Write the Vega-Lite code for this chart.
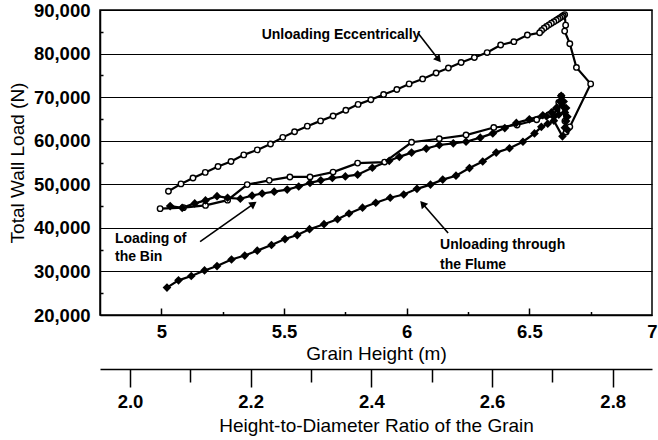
{
  "$schema": "https://vega.github.io/schema/vega-lite/v6.json",
  "width": 552,
  "height": 305,
  "autosize": "none",
  "padding": {"left": 100, "top": 10, "right": 6, "bottom": 125},
  "background": "white",
  "config": {
    "font": "Liberation Sans",
    "view": {"stroke": "#000", "strokeWidth": 1.5},
    "axis": {
      "labelFont": "Liberation Sans", "labelFontSize": 18.5, "labelFontWeight": "bold", "labelColor": "#000",
      "titleFont": "Liberation Sans", "titleFontSize": 19, "titleFontWeight": "normal", "titleColor": "#000",
      "domainColor": "#000", "domainWidth": 1.5, "tickColor": "#000", "tickWidth": 1.5,
      "gridColor": "#000", "gridWidth": 1, "gridOpacity": 1,
      "labelFlush": false, "labelOverlap": false, "labelBound": false
    }
  },
  "datasets": {
    "series": [
      {"s":"e","i":1,"h":4.995,"load":44410},{"s":"e","i":2,"h":5.09,"load":44640},{"s":"e","i":3,"h":5.18,"load":45150},
      {"s":"e","i":4,"h":5.27,"load":46360},{"s":"e","i":5,"h":5.35,"load":49930},{"s":"e","i":6,"h":5.44,"load":50900},
      {"s":"e","i":7,"h":5.524,"load":51680},{"s":"e","i":8,"h":5.606,"load":51680},{"s":"e","i":9,"h":5.70,"load":52800},
      {"s":"e","i":10,"h":5.80,"load":54860},{"s":"e","i":11,"h":5.91,"load":55100},{"s":"e","i":12,"h":6.02,"load":59640},
      {"s":"e","i":13,"h":6.133,"load":60450},{"s":"e","i":14,"h":6.242,"load":61300},{"s":"e","i":15,"h":6.355,"load":63030},
      {"s":"e","i":16,"h":6.45,"load":63600},{"s":"e","i":17,"h":6.53,"load":64800},
      {"s":"e","i":19,"h":6.58,"load":66000},{"s":"e","i":23,"h":6.62,"load":68800},{"s":"e","i":24,"h":6.63,"load":70200},
      {"s":"e","i":27,"h":6.645,"load":64500},
      {"s":"e","i":28,"h":6.65,"load":62000},{"s":"e","i":29,"h":6.665,"load":63180},{"s":"e","i":30,"h":6.75,"load":73040},
      {"s":"e","i":31,"h":6.692,"load":76820},{"s":"e","i":32,"h":6.665,"load":82270},{"s":"e","i":33,"h":6.644,"load":85160},
      {"s":"e","i":34,"h":6.648,"load":86520},{"s":"e","i":35,"h":6.644,"load":88950},{"s":"e","i":36,"h":6.638,"load":88700},
      {"s":"e","i":37,"h":6.632,"load":88450},{"s":"e","i":38,"h":6.625,"load":88200},{"s":"e","i":39,"h":6.618,"load":87950},
      {"s":"e","i":40,"h":6.61,"load":87650},{"s":"e","i":41,"h":6.60,"load":87300},{"s":"e","i":42,"h":6.59,"load":86950},
      {"s":"e","i":43,"h":6.58,"load":86600},{"s":"e","i":44,"h":6.57,"load":86200},{"s":"e","i":45,"h":6.56,"load":85800},
      {"s":"e","i":46,"h":6.55,"load":85300},{"s":"e","i":47,"h":6.542,"load":84770},
      {"s":"e","i":48,"h":6.492,"load":84250},{"s":"e","i":49,"h":6.437,"load":82730},
      {"s":"e","i":50,"h":6.383,"load":81980},{"s":"e","i":51,"h":6.328,"load":80230},{"s":"e","i":52,"h":6.276,"load":79090},
      {"s":"e","i":53,"h":6.222,"load":77950},{"s":"e","i":54,"h":6.170,"load":76680},{"s":"e","i":55,"h":6.120,"load":75550},
      {"s":"e","i":56,"h":6.065,"load":74180},{"s":"e","i":57,"h":6.010,"load":73040},{"s":"e","i":58,"h":5.960,"load":71750},
      {"s":"e","i":59,"h":5.906,"load":70610},{"s":"e","i":60,"h":5.854,"load":69410},{"s":"e","i":61,"h":5.802,"load":68340},
      {"s":"e","i":62,"h":5.752,"load":66980},{"s":"e","i":63,"h":5.700,"load":65680},{"s":"e","i":64,"h":5.649,"load":64550},
      {"s":"e","i":65,"h":5.595,"load":63340},{"s":"e","i":66,"h":5.543,"load":62050},{"s":"e","i":67,"h":5.495,"load":60770},
      {"s":"e","i":68,"h":5.445,"load":59250},{"s":"e","i":69,"h":5.391,"load":57890},{"s":"e","i":70,"h":5.336,"load":56750},
      {"s":"e","i":71,"h":5.284,"load":55230},{"s":"e","i":72,"h":5.231,"load":54090},{"s":"e","i":73,"h":5.179,"load":52730},
      {"s":"e","i":74,"h":5.129,"load":51450},{"s":"e","i":75,"h":5.080,"load":50090},{"s":"e","i":76,"h":5.029,"load":48410},
      {"s":"f","i":1,"h":5.036,"load":45000},{"s":"f","i":2,"h":5.085,"load":44600},{"s":"f","i":3,"h":5.136,"load":45610},
      {"s":"f","i":4,"h":5.18,"load":46300},{"s":"f","i":5,"h":5.227,"load":47270},{"s":"f","i":6,"h":5.27,"load":46900},
      {"s":"f","i":7,"h":5.322,"load":46680},{"s":"f","i":8,"h":5.37,"load":47400},{"s":"f","i":9,"h":5.411,"load":47880},
      {"s":"f","i":10,"h":5.46,"load":48300},{"s":"f","i":11,"h":5.513,"load":48790},{"s":"f","i":12,"h":5.56,"load":49500},
      {"s":"f","i":13,"h":5.606,"load":50320},{"s":"f","i":14,"h":5.65,"load":50900},{"s":"f","i":15,"h":5.697,"load":51450},
      {"s":"f","i":16,"h":5.75,"load":51800},{"s":"f","i":17,"h":5.80,"load":52200},{"s":"f","i":18,"h":5.86,"load":53800},
      {"s":"f","i":19,"h":5.929,"load":55390},{"s":"f","i":20,"h":5.97,"load":56300},{"s":"f","i":21,"h":6.02,"load":57270},
      {"s":"f","i":22,"h":6.08,"load":58200},{"s":"f","i":23,"h":6.133,"load":59020},{"s":"f","i":24,"h":6.19,"load":59400},
      {"s":"f","i":25,"h":6.242,"load":59770},{"s":"f","i":26,"h":6.30,"load":60700},{"s":"f","i":27,"h":6.351,"load":61680},
      {"s":"f","i":28,"h":6.40,"load":62900},{"s":"f","i":29,"h":6.447,"load":64090},{"s":"f","i":30,"h":6.50,"load":64900},
      {"s":"f","i":31,"h":6.555,"load":65840},{"s":"f","i":32,"h":6.57,"load":65600},{"s":"f","i":33,"h":6.59,"load":66500},
      {"s":"f","i":34,"h":6.60,"load":65500},{"s":"f","i":35,"h":6.61,"load":67500},{"s":"f","i":36,"h":6.62,"load":66000},
      {"s":"f","i":37,"h":6.625,"load":69000},{"s":"f","i":38,"h":6.63,"load":70300},{"s":"f","i":39,"h":6.635,"load":68000},
      {"s":"f","i":40,"h":6.64,"load":69000},{"s":"f","i":41,"h":6.645,"load":66500},{"s":"f","i":42,"h":6.65,"load":67500},
      {"s":"f","i":43,"h":6.65,"load":64500},{"s":"f","i":44,"h":6.655,"load":65500},{"s":"f","i":45,"h":6.645,"load":63000},
      {"s":"f","i":46,"h":6.655,"load":62500},{"s":"f","i":47,"h":6.635,"load":61000},
      {"s":"f","i":48,"h":6.60,"load":64600},{"s":"f","i":49,"h":6.575,"load":63900},{"s":"f","i":50,"h":6.549,"load":63180},
      {"s":"f","i":51,"h":6.521,"load":61680},
      {"s":"f","i":52,"h":6.474,"load":59770},{"s":"f","i":53,"h":6.419,"load":58270},{"s":"f","i":54,"h":6.365,"load":57270},
      {"s":"f","i":55,"h":6.31,"load":55230},{"s":"f","i":56,"h":6.256,"load":53720},{"s":"f","i":57,"h":6.201,"load":51970},
      {"s":"f","i":58,"h":6.147,"load":51070},{"s":"f","i":59,"h":6.097,"load":49930},{"s":"f","i":60,"h":6.042,"load":48950},
      {"s":"f","i":61,"h":5.988,"load":47660},{"s":"f","i":62,"h":5.933,"load":46910},{"s":"f","i":63,"h":5.874,"load":45770},
      {"s":"f","i":64,"h":5.82,"load":44630},{"s":"f","i":65,"h":5.765,"load":43300},{"s":"f","i":66,"h":5.718,"load":41980},
      {"s":"f","i":67,"h":5.663,"load":40840},{"s":"f","i":68,"h":5.604,"load":39700},{"s":"f","i":69,"h":5.554,"load":38340},
      {"s":"f","i":70,"h":5.504,"load":37430},{"s":"f","i":71,"h":5.449,"load":36070},{"s":"f","i":72,"h":5.391,"load":34770},
      {"s":"f","i":73,"h":5.340,"load":33640},{"s":"f","i":74,"h":5.286,"load":32730},{"s":"f","i":75,"h":5.227,"load":31230},
      {"s":"f","i":76,"h":5.176,"load":30230},{"s":"f","i":77,"h":5.122,"load":28950},{"s":"f","i":78,"h":5.070,"load":27950},
      {"s":"f","i":79,"h":5.023,"load":26290}
    ],
    "labels": [
      {"h":5.409,"load":84260,"t":"Unloading Eccentrically"},
      {"h":4.811,"load":37445,"t":"Loading of"},
      {"h":4.811,"load":33200,"t":"the Bin"},
      {"h":6.136,"load":36070,"t":"Unloading through"},
      {"h":6.136,"load":31480,"t":"the Flume"}
    ],
    "arrows": [
      {"h":6.046,"load":84720,"h2":6.130,"load2":78660,"ang":142},
      {"h":5.158,"load":36825,"h2":5.376,"load2":45500,"ang":55},
      {"h":6.169,"load":38820,"h2":6.065,"load2":45520,"ang":319}
    ]
  },
  "layer": [
    {
      "layer": [
        {
          "data": {"name": "series"},
          "mark": {"type": "line", "color": "#000", "strokeWidth": 2.2},
          "encoding": {
            "x": {"field": "h", "type": "quantitative",
                  "scale": {"domain": [4.75, 7], "nice": false, "zero": false},
                  "axis": {"orient": "bottom", "values": [5, 5.5, 6, 6.5, 7], "format": "~g", "ticks": false,
                           "labelPadding": 7, "title": "Grain Height (m)", "titlePadding": 4, "grid": false}},
            "y": {"field": "load", "type": "quantitative",
                  "scale": {"domain": [20000, 90000], "nice": false, "zero": false},
                  "axis": {"orient": "left", "values": [20000, 30000, 40000, 50000, 60000, 70000, 80000, 90000],
                           "format": ",d", "ticks": false, "labelPadding": 10, "grid": true,
                           "title": "Total Wall Load (N)", "titlePadding": 6}},
            "detail": {"field": "s"},
            "order": {"field": "i", "type": "quantitative"}
          }
        },
        {
          "data": {"name": "series"},
          "transform": [{"filter": "datum.s === 'e'"}],
          "mark": {"type": "point", "shape": "circle", "filled": true, "fill": "#fff", "stroke": "#000", "strokeWidth": 1.4, "size": 30, "opacity": 1},
          "encoding": {
            "x": {"field": "h", "type": "quantitative"},
            "y": {"field": "load", "type": "quantitative"}
          }
        },
        {
          "data": {"name": "series"},
          "transform": [{"filter": "datum.s === 'f'"}],
          "mark": {"type": "point", "shape": "diamond", "filled": true, "color": "#000", "size": 75, "opacity": 1},
          "encoding": {
            "x": {"field": "h", "type": "quantitative"},
            "y": {"field": "load", "type": "quantitative"}
          }
        },
        {
          "data": {"name": "labels"},
          "mark": {"type": "text", "align": "left", "baseline": "middle", "fontSize": 14, "fontWeight": "bold", "color": "#000", "font": "Liberation Sans"},
          "encoding": {
            "x": {"field": "h", "type": "quantitative"},
            "y": {"field": "load", "type": "quantitative"},
            "text": {"field": "t"}
          }
        },
        {
          "data": {"name": "arrows"},
          "mark": {"type": "rule", "color": "#000", "strokeWidth": 1.6},
          "encoding": {
            "x": {"field": "h", "type": "quantitative"},
            "y": {"field": "load", "type": "quantitative"},
            "x2": {"field": "h2"},
            "y2": {"field": "load2"}
          }
        },
        {
          "data": {"name": "arrows"},
          "mark": {"type": "point", "shape": "triangle-up", "filled": true, "color": "#000", "size": 70, "opacity": 1},
          "encoding": {
            "x": {"field": "h2", "type": "quantitative"},
            "y": {"field": "load2", "type": "quantitative"},
            "angle": {"field": "ang", "type": "quantitative", "scale": null}
          }
        }
      ]
    },
    {
      "data": {"values": [{"h": 4.75, "load": 20000}]},
      "mark": {"type": "point", "opacity": 0},
      "encoding": {
        "x": {"field": "h", "type": "quantitative", "scale": {"domain": [4.75, 7], "nice": false, "zero": false},
              "axis": {"orient": "bottom", "values": [5, 5.5, 6, 6.5], "labels": false, "domain": false, "grid": false, "tickSize": -7, "title": null}},
        "y": {"field": "load", "type": "quantitative", "scale": {"domain": [20000, 90000], "nice": false, "zero": false},
              "axis": {"orient": "left", "values": [25000, 35000, 45000, 55000, 65000, 75000, 85000], "labels": false, "domain": false, "grid": false, "tickSize": -3, "title": null}}
      }
    },
    {
      "data": {"values": [{"h": 4.75}]},
      "mark": {"type": "point", "opacity": 0},
      "encoding": {
        "x": {"field": "h", "type": "quantitative", "scale": {"domain": [4.75, 7], "nice": false, "zero": false},
              "axis": {"orient": "bottom", "values": [5.25, 5.75, 6.25, 6.75], "labels": false, "domain": false, "grid": false, "tickSize": -3.5, "title": null}}
      }
    },
    {
      "data": {"values": [{"r": 2.0}]},
      "mark": {"type": "point", "opacity": 0},
      "encoding": {
        "x": {"field": "r", "type": "quantitative", "scale": {"domain": [1.9503, 2.8651], "nice": false, "zero": false},
              "axis": {"orient": "bottom", "offset": 54, "values": [2.0, 2.2, 2.4, 2.6, 2.8], "format": ".1f", "tickSize": 18,
                       "labelPadding": 5, "title": "Height-to-Diameter Ratio of the Grain", "titlePadding": 6, "grid": false}}
      }
    },
    {
      "data": {"values": [{"r": 2.0}]},
      "mark": {"type": "point", "opacity": 0},
      "encoding": {
        "x": {"field": "r", "type": "quantitative", "scale": {"domain": [1.9503, 2.8651], "nice": false, "zero": false},
              "axis": {"orient": "bottom", "offset": 54, "values": [2.1, 2.3, 2.5, 2.7], "labels": false, "domain": false, "tickSize": 13, "title": null, "grid": false}}
      }
    }
  ],
  "resolve": {"scale": {"x": "independent", "y": "independent"}}
}
